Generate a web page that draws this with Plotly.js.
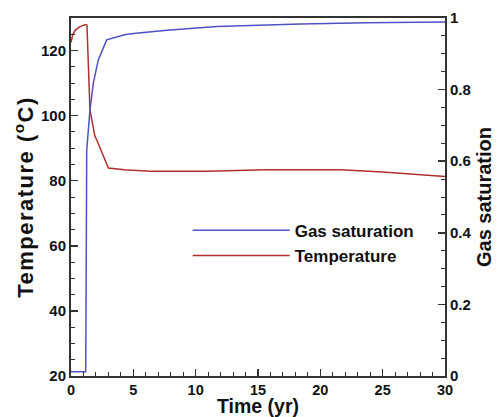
<!DOCTYPE html>
<html>
<head>
<meta charset="utf-8">
<script src="https://cdn.plot.ly/plotly-3.0.1.min.js"></script>
<style>
html,body{margin:0;padding:0;background:#fff;}
#chart{width:497px;height:417px;}
#chart text.ytitle{letter-spacing:1.5px;}
</style>
</head>
<body>
<div id="chart"></div>
<script>
// Time (yr) and values
const gasTime = [0, 1.18, 1.22, 1.26, 1.52, 1.79, 2.19, 2.86, 4.3, 5, 7.7, 11.7, 18.4, 23.7, 30];
const gasSat  = [0.012, 0.012, 0.3, 0.63, 0.743, 0.818, 0.883, 0.939, 0.953, 0.957, 0.966, 0.976, 0.983, 0.987, 0.989];

const tempTime = [0, 0.15, 0.35, 0.7, 1.0, 1.2, 1.28, 1.4, 1.52, 1.92, 2.06, 3.0, 4.3, 6.3, 10.9, 15.7, 21.6, 25, 30];
const tempVal  = [122.5, 125, 126.3, 127.3, 127.8, 128, 127.8, 112, 101.8, 93.6, 92.6, 83.9, 83.4, 82.9, 82.9, 83.4, 83.4, 82.7, 81.3];

const seriesNames = ["Gas saturation", "Temperature"];
const xTicks = [0, 5, 10, 15, 20, 25, 30];
const yLeftTicks = [20, 40, 60, 80, 100, 120];
const yRightTicks = [0, 0.2, 0.4, 0.6, 0.8, 1];

const FONT = "Liberation Sans, Arial, sans-serif";
const tickFont = {family: FONT, size: 15, color: "#111", weight: "bold"};
const titleFont = {family: FONT, size: 20, color: "#111", weight: "bold"};

const traces = [
  {x: gasTime, y: gasSat, name: seriesNames[0], type: "scatter", mode: "lines",
   yaxis: "y2", line: {color: "#5050c4", width: 1.5}},
  {x: tempTime, y: tempVal, name: seriesNames[1], type: "scatter", mode: "lines",
   yaxis: "y", line: {color: "#b22f2f", width: 1.5}}
];

const layout = {
  width: 497, height: 417,
  margin: {l: 71, r: 52, t: 18, b: 41},
  paper_bgcolor: "#fff", plot_bgcolor: "#fff",
  showlegend: true,
  legend: {x: 0.312, y: 0.456, xanchor: "left", yanchor: "top", bgcolor: "rgba(0,0,0,0)",
           font: {family: FONT, size: 17, color: "#111", weight: "bold"}, itemwidth: 97, tracegroupgap: 0},
  xaxis: {
    range: [0, 30], tickvals: xTicks, ticktext: xTicks.map(String),
    ticks: "inside", ticklen: 7, tickwidth: 1.5, tickcolor: "#333",
    minor: {dtick: 1, ticks: "inside", ticklen: 4, tickcolor: "#333", tickwidth: 1},
    showline: true, linecolor: "#333", linewidth: 2, mirror: true,
    showgrid: false, zeroline: false,
    tickfont: {family: FONT, size: 14.5, color: "#111", weight: "bold"},
    title: {text: "Time (yr)", font: {family: FONT, size: 19.5, color: "#111", weight: "bold"}, standoff: 3},
    automargin: false
  },
  yaxis: {
    range: [20, 130], tickvals: yLeftTicks, ticktext: yLeftTicks.map(String),
    ticks: "inside", ticklen: 7, tickwidth: 1.5, tickcolor: "#333",
    minor: {dtick: 5, tick0: 20, ticks: "inside", ticklen: 4, tickcolor: "#333", tickwidth: 1},
    showline: true, linecolor: "#333", linewidth: 2,
    showgrid: false, zeroline: false,
    tickfont: tickFont,
    title: {text: "Temperature (<sup>o</sup>C)", font: {family: FONT, size: 22, color: "#111", weight: "bold"}, standoff: 1},
    automargin: false
  },
  yaxis2: {
    overlaying: "y", side: "right",
    range: [0, 1], tickvals: yRightTicks, ticktext: yRightTicks.map(String),
    ticks: "inside", ticklen: 7, tickwidth: 1.5, tickcolor: "#333",
    minor: {dtick: 0.05, tick0: 0, ticks: "inside", ticklen: 4, tickcolor: "#333", tickwidth: 1},
    showline: true, linecolor: "#333", linewidth: 2,
    showgrid: false, zeroline: false,
    tickfont: tickFont,
    title: {text: "Gas saturation", font: titleFont, standoff: 6},
    automargin: false
  }
};

Plotly.newPlot("chart", traces, layout, {displayModeBar: false, staticPlot: true});
</script>
</body>
</html>
